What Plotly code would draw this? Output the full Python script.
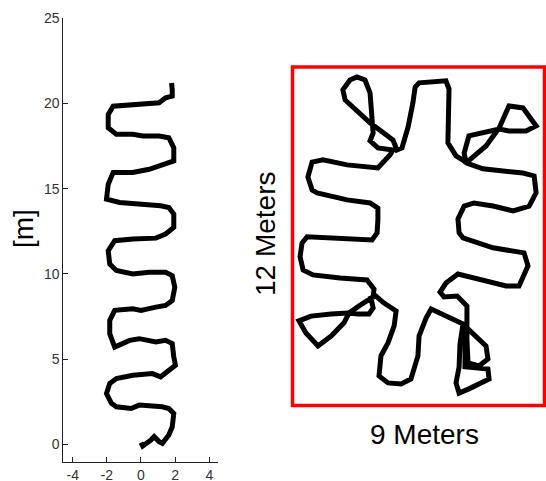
import plotly.graph_objects as go

# ---- Left panel: serpentine trajectory (metres) ----
left_x = [0.0, 0.1, 0.58, 0.77, 1.06, 1.25, 1.63, 1.83, 1.92, 1.63, 1.25, -0.1, -0.58, -1.44, -1.73,
          -2.02, -1.83, -1.44, -0.48, 0.67, 1.15, 1.63, 2.02, 1.92, 1.83, 1.44, 0.87, -0.1, -0.67, -1.54,
          -1.83, -1.83, -1.54, -0.48, 0.0, 0.87, 1.44, 1.83, 1.98, 1.83, 1.44, 0.48, -0.48, -1.44, -1.83,
          -1.92, -1.54, -0.48, 0.87, 1.44, 1.92, 1.92, 1.63, 1.15, -0.1, -1.25, -2.02, -1.92, -1.63, -0.48,
          0.48, 1.44, 1.92, 1.92, 1.63, 1.06, 0.1, -0.48, -1.44, -1.92, -1.92, -1.63, -0.48, 1.06, 1.44,
          1.83, 1.83, 1.79]
left_y = [0.1, -0.1, 0.25, 0.45, 0.16, 0.06, 0.55, 1.03, 1.81, 2.1, 2.2, 2.3, 2.1, 2.2, 2.4,
          2.98, 3.57, 3.86, 4.05, 4.15, 3.96, 4.35, 4.64, 5.13, 5.91, 6.1, 6.0, 6.2, 6.1, 5.71,
          6.49, 7.27, 7.86, 7.95, 7.86, 8.05, 8.15, 8.44, 9.22, 9.9, 10.1, 10.1, 10.0, 10.2, 10.58,
          11.36, 11.95, 12.05, 12.1, 12.34, 12.73, 13.51, 13.9, 14.0, 14.09, 14.19, 14.39, 15.26, 15.95, 15.95,
          16.14, 16.43, 16.63, 17.4, 17.99, 18.09, 18.09, 18.19, 18.19, 18.58, 19.36, 19.84, 19.94, 20.04, 20.33,
          20.43, 20.82, 21.2]

left_xticks = [-4, -2, 0, 2, 4]
left_xticklabels = ["-4", "-2", "0", "2", "4"]
left_yticks = [0, 5, 10, 15, 20, 25]

# ---- Right panel: star-shaped trajectory inside 9 m x 12 m area (metres) ----
right_x = [6.13, 5.84, 5.55, 5.55, 5.59, 5.48, 4.52, 4.38, 4.30, 4.13, 3.91, 3.73,
           3.59, 2.77, 1.88, 1.80, 2.05, 2.30, 2.59, 2.77, 2.84, 2.88, 2.77, 3.05, 3.59,
           3.48, 3.05, 2.41, 1.95, 1.09, 0.70, 0.55, 0.70, 0.88, 1.95, 2.77, 3.05, 3.05, 3.02, 2.84,
           1.70, 0.52, 0.34, 0.27, 0.38, 0.73, 1.70, 2.66, 2.91, 2.88,
           2.38, 2.02, 1.84, 1.38, 0.91, 0.48, 0.23, 0.66, 1.38, 1.98, 2.34, 2.73, 2.88, 2.80, 2.98,
           3.27, 3.70, 3.63, 3.41, 3.16, 3.09, 3.41, 3.88, 4.23, 4.48, 4.52, 4.66, 4.77,
           4.95, 5.52, 6.09, 5.98, 5.95, 5.84, 5.95, 6.30, 7.02, 6.98, 6.63, 6.16,
           6.16, 6.20, 6.91, 6.98, 6.66, 6.27, 6.23, 6.23, 6.23, 5.88, 5.41, 5.27, 5.48,
           5.91, 6.55, 7.63, 8.09, 8.41, 8.27, 7.16, 6.09, 5.95, 5.91, 6.13, 6.48, 7.16, 7.88, 8.45,
           8.70, 8.63, 8.23, 7.38, 6.80, 6.20,
           6.91, 7.38, 7.59, 7.73, 8.23, 8.70, 8.34, 7.73, 7.38, 6.80, 6.30, 6.13, 6.20, 6.13]
right_y = [8.67, 8.85, 9.31, 10.27, 11.22, 11.51, 11.44, 11.29, 10.73, 9.88, 9.13, 9.06,
           9.41, 10.02, 10.83, 11.19, 11.54, 11.65, 11.54, 11.08, 10.23, 9.66, 9.38, 9.13, 9.06,
           8.88, 8.42, 8.46, 8.53, 8.71, 8.63, 8.10, 7.64, 7.54, 7.29, 7.18, 7.00, 6.58, 6.12, 5.87,
           5.94, 5.98, 5.76, 5.27, 4.80, 4.63, 4.52, 4.45, 4.13, 3.85,
           3.53, 3.28, 2.93, 2.46, 2.11, 2.57, 3.00, 3.17, 3.24, 3.28, 3.24, 3.24, 3.46, 3.81, 3.88,
           3.63, 3.35, 2.82, 2.22, 1.76, 1.05, 0.80, 0.76, 0.94, 1.76, 2.46, 2.82, 3.10,
           3.42, 3.17, 2.89, 2.15, 1.37, 0.80, 0.44, 0.59, 0.94, 1.29, 1.33, 1.37,
           2.15, 2.78, 2.11, 1.65, 1.40, 1.51, 2.32, 3.03, 3.53, 3.88, 3.85, 4.02, 4.34,
           4.66, 4.49, 4.24, 4.24, 4.95, 5.41, 5.59, 5.94, 6.12, 6.61, 7.07, 7.18, 7.07, 6.90, 7.07,
           7.54, 8.14, 8.24, 8.32, 8.39, 8.60,
           9.20, 9.84, 10.37, 10.62, 10.55, 9.91, 9.73, 9.73, 9.80, 9.66, 9.56, 8.95, 8.60, 8.67]

area_width_m = 9
area_height_m = 12
width_label = "9 Meters"
height_label = "12 Meters"
left_ylabel = "[m]"

W, H = 546, 481

def fx(px):
    return px / W

def fy(py):
    return 1 - py / H

fig = go.Figure()

fig.add_trace(go.Scatter(x=left_x, y=left_y, mode="lines",
                         line=dict(color="black", width=5),
                         xaxis="x", yaxis="y", showlegend=False, hoverinfo="skip"))
fig.add_trace(go.Scatter(x=right_x, y=right_y, mode="lines",
                         line=dict(color="black", width=5),
                         xaxis="x2", yaxis="y2", showlegend=False, hoverinfo="skip"))

tickfont = dict(family="Liberation Sans, Arial, sans-serif", size=14, color="#333333")

# right panel: 28 px per metre horizontally, 28.2 px per metre vertically;
# a small padding keeps the thick red border from being clipped
pad_y = 0.1
fig.update_layout(
    width=W, height=H,
    margin=dict(l=0, r=0, t=0, b=0, autoexpand=False),
    paper_bgcolor="white", plot_bgcolor="white",
    xaxis=dict(domain=[fx(63.3), fx(218)], range=[-4.55, 4.51], tickvals=left_xticks,
               ticktext=left_xticklabels,
               ticks="inside", ticklen=5, tickcolor="#222222", showline=True, linecolor="#222222",
               linewidth=1, showgrid=False, zeroline=False, tickfont=tickfont, anchor="y",
               fixedrange=True, automargin=False),
    yaxis=dict(domain=[fy(461.7), fy(18.3)], range=[-1.02, 25], tickvals=left_yticks,
               ticks="inside", ticklen=5, tickcolor="#222222", showline=True, linecolor="#222222",
               linewidth=1, showgrid=False, zeroline=False, tickfont=tickfont, anchor="x",
               fixedrange=True, automargin=False),
    xaxis2=dict(domain=[fx(289.7), 1.0], range=[-0.1, area_width_m + 1.5 / 28], visible=False,
                anchor="y2", fixedrange=True),
    yaxis2=dict(domain=[fy(405.5 + 2.82), fy(67 - 2.82)], range=[-pad_y, area_height_m + pad_y],
                visible=False, anchor="x2", fixedrange=True),
)

fig.add_shape(type="rect", xref="x2", yref="y2", x0=0, x1=area_width_m, y0=0, y1=area_height_m,
              line=dict(color="#ff0000", width=3.5), fillcolor="rgba(0,0,0,0)", layer="below")

labfont = dict(family="Liberation Sans, Arial, sans-serif", size=28, color="black")
fig.add_annotation(x=fx(23), y=fy(229), xref="paper", yref="paper", text=left_ylabel,
                   textangle=-90, showarrow=False, font=labfont, xanchor="center", yanchor="middle")
fig.add_annotation(x=fx(265), y=fy(234), xref="paper", yref="paper", text=height_label,
                   textangle=-90, showarrow=False, font=labfont, xanchor="center", yanchor="middle")
fig.add_annotation(x=fx(424), y=fy(434), xref="paper", yref="paper", text=width_label,
                   showarrow=False, font=labfont, xanchor="center", yanchor="middle")

fig.write_html("out.html", config={"displayModeBar": False},
               post_script="document.body.style.margin='0';document.body.style.overflow='hidden';")
